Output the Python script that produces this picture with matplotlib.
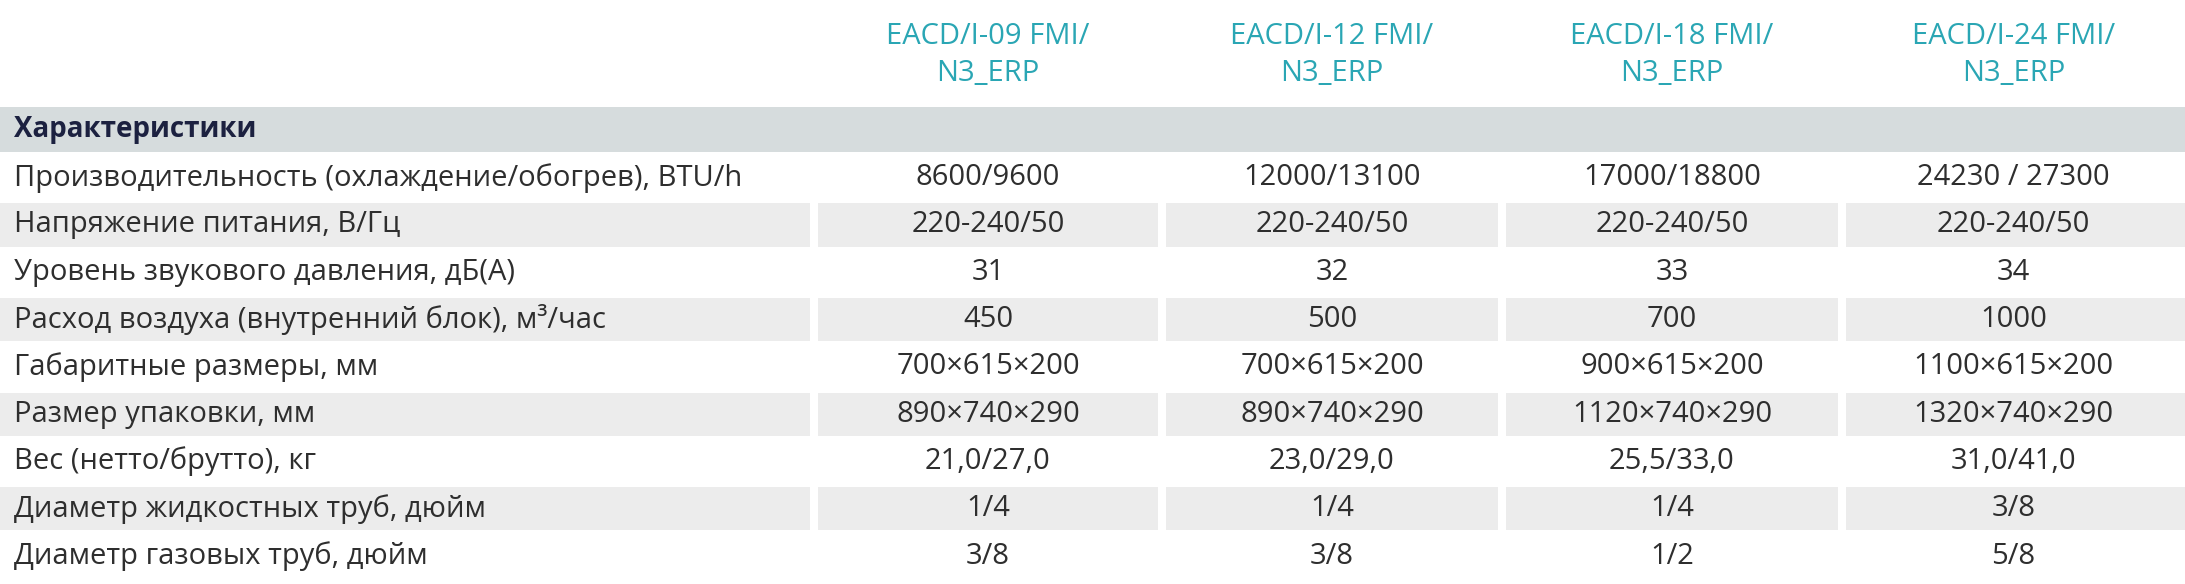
import matplotlib.pyplot as plt
from matplotlib.patches import Rectangle

models = ["EACD/I-09 FMI/\nN3_ERP", "EACD/I-12 FMI/\nN3_ERP", "EACD/I-18 FMI/\nN3_ERP", "EACD/I-24 FMI/\nN3_ERP"]
section = "Характеристики"
params = [
    "Производительность (охлаждение/обогрев), BTU/h",
    "Напряжение питания, В/Гц",
    "Уровень звукового давления, дБ(А)",
    "Расход воздуха (внутренний блок), м³/час",
    "Габаритные размеры, мм",
    "Размер упаковки, мм",
    "Вес (нетто/брутто), кг",
    "Диаметр жидкостных труб, дюйм",
    "Диаметр газовых труб, дюйм",
]
col09 = ["8600/9600", "220-240/50", "31", "450", "700×615×200", "890×740×290", "21,0/27,0", "1/4", "3/8"]
col12 = ["12000/13100", "220-240/50", "32", "500", "700×615×200", "890×740×290", "23,0/29,0", "1/4", "3/8"]
col18 = ["17000/18800", "220-240/50", "33", "700", "900×615×200", "1120×740×290", "25,5/33,0", "1/4", "1/2"]
col24 = ["24230 / 27300", "220-240/50", "34", "1000", "1100×615×200", "1320×740×290", "31,0/41,0", "3/8", "5/8"]
columns = [col09, col12, col18, col24]

plt.rcParams['font.family'] = ['Open Sans', 'DejaVu Sans']
W, H = 2185, 584
fig = plt.figure(figsize=(W / 100, H / 100), dpi=100)
ax = fig.add_axes([0, 0, 1, 1])
ax.set_xlim(0, W)
ax.set_ylim(H, 0)
ax.axis("off")

bounds = [0, 814, 1162, 1502, 1842, W]
gap = 4
row_h = 47.3
y0 = 154
fs = 21

# header band
ax.add_patch(Rectangle((0, 107), W, 45, color="#d6dcdd", lw=0))
ax.text(14, 130, section, fontsize=20, fontweight="bold", color="#1c2140", va="center")

for j, m in enumerate(models):
    cx = (bounds[j + 1] + bounds[j + 2]) / 2
    ax.text(cx, 55, m, fontsize=21, color="#2aa6b4", ha="center", va="center", linespacing=1.4)

for i, p in enumerate(params):
    yt = y0 + i * row_h
    yc = yt + row_h / 2
    if i % 2 == 1:
        for k in range(5):
            x1 = bounds[k] + (gap if k > 0 else 0)
            x2 = bounds[k + 1] - (gap if k < 4 else 0)
            ax.add_patch(Rectangle((x1, yt + 2), x2 - x1, row_h - 4, color="#ececec", lw=0))
    ax.text(14, yc, p, fontsize=fs, color="#2e2e2e", va="center")
    for j, col in enumerate(columns):
        cx = (bounds[j + 1] + bounds[j + 2]) / 2
        ax.text(cx, yc, col[i], fontsize=fs, color="#2e2e2e", ha="center", va="center")

fig.savefig("out.png", dpi=100)
